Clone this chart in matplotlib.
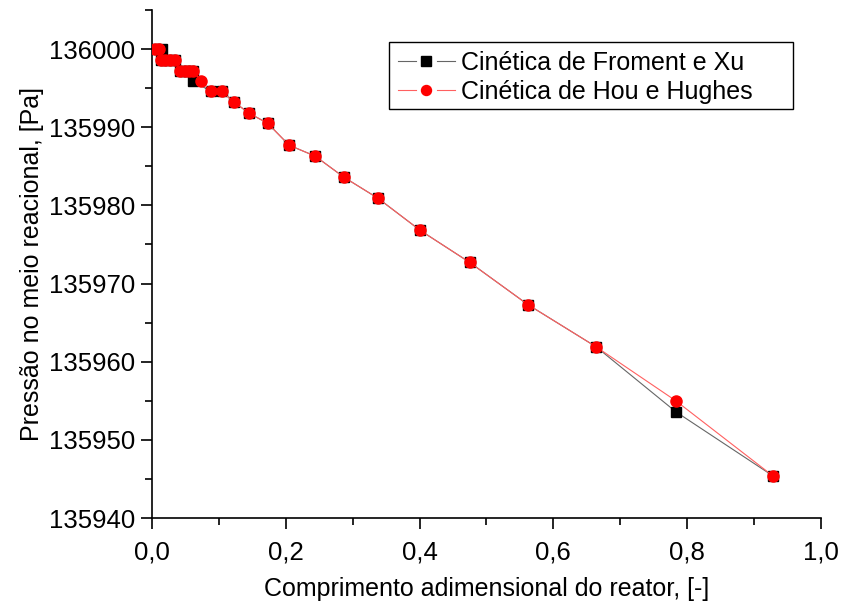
import matplotlib
matplotlib.use("Agg")
import matplotlib.pyplot as plt
from matplotlib.ticker import MultipleLocator, FuncFormatter
from matplotlib.legend_handler import HandlerLine2D
from matplotlib.lines import Line2D
from matplotlib.patches import Rectangle

plt.rcParams['font.family'] = ['Liberation Sans', 'DejaVu Sans']

x_froment = [0.004, 0.015, 0.013, 0.020, 0.027, 0.034, 0.042, 0.049, 0.056, 0.062, 0.061,
             0.088, 0.104, 0.123, 0.145, 0.173, 0.205, 0.244, 0.287, 0.338, 0.401, 0.475,
             0.562, 0.664, 0.783, 0.928]
p_froment = [136000.0, 136000.0, 135998.6, 135998.6, 135998.6, 135998.6, 135997.2, 135997.2,
             135997.2, 135997.2, 135995.9, 135994.6, 135994.6, 135993.2, 135991.8, 135990.5,
             135987.7, 135986.3, 135983.6, 135980.9, 135976.8, 135972.7, 135967.3, 135961.9,
             135953.6, 135945.4]

x_hou = [0.004, 0.010, 0.013, 0.020, 0.027, 0.034, 0.042, 0.049, 0.056, 0.062, 0.074,
         0.088, 0.104, 0.123, 0.145, 0.173, 0.205, 0.244, 0.287, 0.338, 0.401, 0.475,
         0.562, 0.664, 0.783, 0.928]
p_hou = [136000.0, 136000.0, 135998.6, 135998.6, 135998.6, 135998.6, 135997.2, 135997.2,
         135997.2, 135997.2, 135995.9, 135994.6, 135994.6, 135993.2, 135991.8, 135990.5,
         135987.7, 135986.3, 135983.6, 135980.9, 135976.8, 135972.7, 135967.3, 135961.9,
         135955.0, 135945.4]

labels = ["Cinética de Froment e Xu", "Cinética de Hou e Hughes"]


class GapHandler(HandlerLine2D):
    """Legend handle: line - gap - marker - gap - line (Origin style)."""
    def create_artists(self, legend, orig_handle, xdescent, ydescent, width, height,
                       fontsize, trans):
        y = height / 2 - ydescent
        x0 = -xdescent
        x1 = x0 + width
        xm = (x0 + x1) / 2
        gap = width * 0.19
        color = orig_handle.get_color()
        lw = orig_handle.get_linewidth()
        l1 = Line2D([x0, xm - gap], [y, y], color=color, lw=lw, transform=trans)
        l2 = Line2D([xm + gap, x1], [y, y], color=color, lw=lw, transform=trans)
        m = Line2D([xm], [y], marker=orig_handle.get_marker(), ls='none',
                   ms=orig_handle.get_markersize() * 0.9,
                   mfc=orig_handle.get_markerfacecolor(),
                   mec=orig_handle.get_markeredgecolor(), transform=trans)
        return [l1, l2, m]


fig = plt.figure(figsize=(8.42, 6.09), dpi=100)
ax = fig.add_axes([0.1805, 0.1494, 0.7945, 0.8342])

h1, = ax.plot(x_froment, p_froment, color='#666666', lw=0.8, marker='s', ms=7.5,
              mfc='black', mec='black', label=labels[0], zorder=2)
h2, = ax.plot(x_hou, p_hou, color='#ff6060', lw=0.8, marker='o', ms=8,
              mfc='red', mec='red', label=labels[1], zorder=3)

ax.set_xlim(0, 1.0)
ax.set_ylim(135940, 136005)
ax.xaxis.set_major_locator(MultipleLocator(0.2))
ax.xaxis.set_minor_locator(MultipleLocator(0.1))
ax.yaxis.set_major_locator(MultipleLocator(10))
ax.yaxis.set_minor_locator(MultipleLocator(5))
ax.xaxis.set_major_formatter(FuncFormatter(lambda v, p: f"{v:.1f}".replace('.', ',')))
ax.yaxis.set_major_formatter(FuncFormatter(lambda v, p: f"{int(round(v))}"))

for s in ['top', 'right']:
    ax.spines[s].set_visible(False)
for s in ['left', 'bottom']:
    ax.spines[s].set_linewidth(1.2)

ax.tick_params(axis='both', which='major', direction='out', length=8, width=1.2,
               labelsize=18.5, pad=4)
ax.tick_params(axis='x', which='major', pad=8)
ax.tick_params(axis='both', which='minor', direction='out', length=5, width=1.2)

ax.set_xlabel("Comprimento adimensional do reator, [-]", fontsize=18, labelpad=9)
ax.set_ylabel("Pressão no meio reacional, [Pa]", fontsize=18, labelpad=4)

# legend frame (wider box, Origin style)
frame = Rectangle((0.3543, 0.805), 0.958 - 0.3543, 0.937 - 0.805, transform=ax.transAxes,
                  facecolor='white', edgecolor='black', lw=1.0, zorder=4)
ax.add_patch(frame)

leg = ax.legend(handles=[h1, h2], loc='upper left', bbox_to_anchor=(0.3543, 0.937),
                fontsize=18, frameon=False, borderpad=0.35, handlelength=2.3,
                handletextpad=0.25, labelspacing=0.2, borderaxespad=0,
                handler_map={Line2D: GapHandler()})
leg.set_zorder(5)

fig.savefig("out.png", dpi=100)
